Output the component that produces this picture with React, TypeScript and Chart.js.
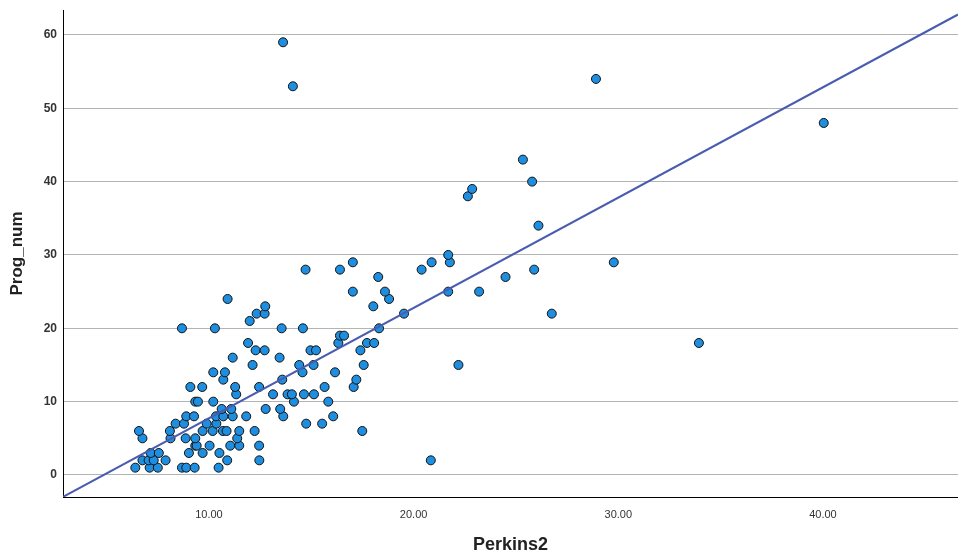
import React, { useEffect, useRef } from "react";
import { Chart, registerables } from "chart.js";

Chart.register(...registerables);

// Perkins2 (x) values and Prog_num (y) values
const perkins2: number[] = [
  6.40, 7.10, 7.50, 8.68, 8.89, 9.30, 10.47,
  6.75, 7.05, 7.30, 7.88, 10.89, 12.46, 20.84,
  7.15, 7.55, 9.02, 9.69, 10.51,
  9.33, 9.40, 10.03, 11.04, 11.48, 12.45,
  6.75, 8.12, 8.86, 9.33, 11.38,
  6.58, 8.09, 9.69, 10.18, 10.68, 10.86, 11.48, 12.23, 17.49,
  8.37, 8.78, 9.89, 10.36, 14.75, 15.53,
  8.89, 9.27, 10.34, 10.70, 11.16, 11.82, 13.63, 16.07,
  10.62, 11.09, 12.77, 13.48,
  9.33, 9.46, 10.21, 14.15, 15.83,
  11.33, 13.13, 13.84, 14.05, 14.64, 15.13,
  9.09, 9.67, 11.28, 12.45, 15.65, 17.07,
  10.70, 13.58, 17.20,
  10.21, 10.78, 14.57, 16.16,
  12.13, 14.41, 15.11, 17.56, 22.19,
  11.16, 13.45,
  12.28, 12.72, 14.96, 15.23, 17.40,
  11.91, 16.32, 17.72, 18.07, 33.94,
  16.40, 16.60,
  8.68, 10.29, 13.55, 14.59, 18.31,
  11.99,
  12.33, 12.72, 19.53, 26.75,
  12.75, 18.03,
  10.91, 18.80,
  17.03, 18.60, 21.69, 23.20,
  18.27, 24.49,
  14.72, 16.40, 20.39, 25.89,
  17.03, 20.88, 21.77, 29.78,
  21.69,
  26.10,
  22.65,
  22.86,
  25.79,
  25.34,
  40.04,
  14.10,
  28.91,
  13.62,
];

const progNum: number[] = [
  1, 1, 1, 1, 1, 1, 1,
  2, 2, 2, 2, 2, 2, 2,
  3, 3, 3, 3, 3,
  4, 4, 4, 4, 4, 4,
  5, 5, 5, 5, 5,
  6, 6, 6, 6, 6, 6, 6, 6, 6,
  7, 7, 7, 7, 7, 7,
  8, 8, 8, 8, 8, 8, 8, 8,
  9, 9, 9, 9,
  10, 10, 10, 10, 10,
  11, 11, 11, 11, 11, 11,
  12, 12, 12, 12, 12, 12,
  13, 13, 13,
  14, 14, 14, 14,
  15, 15, 15, 15, 15,
  16, 16,
  17, 17, 17, 17, 17,
  18, 18, 18, 18, 18,
  19, 19,
  20, 20, 20, 20, 20,
  21,
  22, 22, 22, 22,
  23, 23,
  24, 24,
  25, 25, 25, 25,
  27, 27,
  28, 28, 28, 28,
  29, 29, 29, 29,
  30,
  34,
  38,
  39,
  40,
  43,
  48,
  53,
  54,
  59,
];

// Fit line
const fitSlope = 1.504;
const fitIntercept = -7.3;

// Axis ranges and tick values
const xRange: number[] = [2.867, 46.6];
const yRange: number[] = [-3, 63.4];
const xTicks: number[] = [10, 20, 30, 40];
const yTicks: number[] = [0, 10, 20, 30, 40, 50, 60];

const FONT = "'Liberation Sans', Arial, sans-serif";

export default function App() {
  const ref = useRef<HTMLCanvasElement | null>(null);

  useEffect(() => {
    document.body.style.margin = "0";
    const canvas = ref.current;
    if (!canvas) return;
    const points = perkins2.map((x, i) => ({ x, y: progNum[i] }));
    const linePts = xRange.map((x) => ({ x, y: fitIntercept + fitSlope * x }));

    const chart = new Chart(canvas, {
      type: "scatter",
      data: {
        datasets: [
          {
            type: "line",
            label: "Fit",
            data: linePts,
            borderColor: "#4a5cb0",
            borderWidth: 2,
            pointRadius: 0,
            fill: false,
            order: 0,
          } as any,
          {
            label: "Prog_num",
            data: points,
            backgroundColor: "#1e8fe0",
            borderColor: "#111111",
            borderWidth: 1,
            pointRadius: 4.5,
            order: 1,
          },
        ],
      },
      options: {
        animation: false,
        responsive: false,
        maintainAspectRatio: false,
        layout: { autoPadding: false, padding: { top: 10, right: 0, left: 0, bottom: 0 } },
        plugins: {
          legend: { display: false },
          tooltip: { enabled: false },
        },
        scales: {
          x: {
            type: "linear",
            min: xRange[0],
            max: xRange[1],
            afterBuildTicks: (scale: any) => {
              scale.ticks = xTicks.map((v) => ({ value: v }));
            },
            afterFit: (scale: any) => {
              scale.height = 59;
              scale.paddingLeft = 0;
              scale.paddingRight = 0;
            },
            grid: { display: false, drawTicks: false },
            border: { display: true, color: "#000000", width: 1 },
            ticks: {
              padding: 11,
              color: "#333333",
              font: { family: FONT, size: 11 },
              maxRotation: 0,
              callback: (v: any) => Number(v).toFixed(2),
            },
            title: {
              display: true,
              text: "Perkins2",
              color: "#222222",
              font: { family: FONT, size: 18, weight: "bold" },
              padding: { top: 0, bottom: 0 },
            },
          },
          y: {
            type: "linear",
            min: yRange[0],
            max: yRange[1],
            afterBuildTicks: (scale: any) => {
              scale.ticks = yTicks.map((v) => ({ value: v }));
            },
            afterFit: (scale: any) => {
              scale.width = 63;
              scale.paddingTop = 0;
              scale.paddingBottom = 0;
            },
            grid: { display: true, color: "#b4b4b4", lineWidth: 1, drawTicks: false },
            border: { display: true, color: "#000000", width: 1 },
            ticks: {
              padding: 6,
              color: "#333333",
              font: { family: FONT, size: 12, weight: "bold" },
              callback: (v: any) => String(v),
            },
            title: {
              display: true,
              text: "Prog_num",
              color: "#222222",
              font: { family: FONT, size: 17, weight: "bold" },
              padding: { top: 7, bottom: 0 },
            },
          },
        },
      },
    });
    return () => chart.destroy();
  }, []);

  return <canvas ref={ref} width={958} height={556} style={{ display: "block" }} />;
}
